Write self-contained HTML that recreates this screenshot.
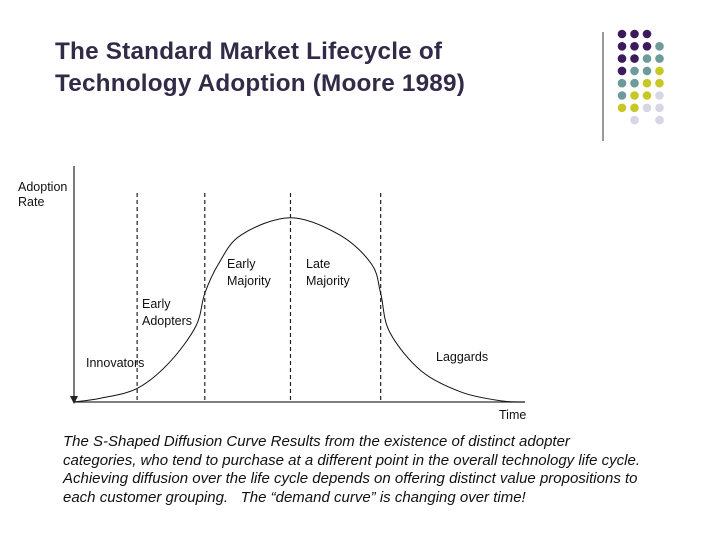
<!DOCTYPE html>
<html><head><meta charset="utf-8"><style>
body{margin:0;width:720px;height:540px;background:#fff;overflow:hidden;font-family:"Liberation Sans",sans-serif;position:relative}
.title{position:absolute;left:55px;top:36px;font-size:24.3px;color:#332a48;line-height:32px;font-weight:bold;letter-spacing:0.2px}
.cap{position:absolute;left:63px;top:433px;font-size:15px;font-style:italic;color:#111;line-height:18.5px;width:660px;white-space:nowrap}
svg{position:absolute;left:0;top:0}
</style></head><body>
<div class="title">The Standard Market Lifecycle of<br>Technology Adoption (Moore 1989)</div>
<svg width="720" height="540">
<line x1="603" y1="32" x2="603" y2="141" stroke="#777" stroke-width="1.5"/>
<g id="dots"></g>
<g id="plot"></g>
<text x="18" y="191" font-size="12.5" fill="#111">Adoption</text>
<text x="18" y="206" font-size="12.5" fill="#111">Rate</text>
<text x="499" y="419" font-size="12.5" fill="#111">Time</text>
<text x="86" y="367" font-size="12.5" fill="#111">Innovators</text>
<text x="142" y="308" font-size="12.5" fill="#111">Early</text>
<text x="142" y="325" font-size="12.5" fill="#111">Adopters</text>
<text x="227" y="268" font-size="12.5" fill="#111">Early</text>
<text x="227" y="285" font-size="12.5" fill="#111">Majority</text>
<text x="306" y="268" font-size="12.5" fill="#111">Late</text>
<text x="306" y="285" font-size="12.5" fill="#111">Majority</text>
<text x="436" y="361" font-size="12.5" fill="#111">Laggards</text>
</svg>
<div class="cap">The S-Shaped Diffusion Curve Results from the existence of distinct adopter<br>categories, who tend to purchase at a different point in the overall technology life cycle.<br>Achieving diffusion over the life cycle depends on offering distinct value propositions to<br>each customer grouping.&nbsp;&nbsp; The “demand curve” is changing over time!</div>
<script>
const NS="http://www.w3.org/2000/svg";
// curve data: time (0-100) and adoption rate (0-100)
const times=[0,6,14,21,27,29,32,37,48,59,66,68,70,77,86,95,100];
const rates=[0,2,7,20,39,56,71,86,95,86,71,56,36,16,5,0.5,0];
const boundaries=[14,29,48,68];
const dotColors=[["P","P","P",""],["P","P","P","T"],["P","P","T","T"],["P","T","T","Y"],["T","T","Y","Y"],["T","Y","Y","L"],["Y","Y","L","L"],["","L","","L"]];
const x0=74,x1=525,yb=402,yt=208;
const sx=t=>x0+t/100*(x1-x0);
const sy=r=>yb-r/100*(yb-yt);
const plot=document.getElementById('plot');
function mk(tag,attrs){const e=document.createElementNS(NS,tag);for(const k in attrs)e.setAttribute(k,attrs[k]);plot.appendChild(e);return e;}
let a=mk('line',{x1:x0,y1:166,x2:x0,y2:398,stroke:'#333','stroke-width':1.3});


let ah=mk('path',{d:`M${x0-4},396 L${x0+4},396 L${x0},404 Z`,fill:'#222'});


let xa=mk('line',{x1:x0,y1:yb,x2:x1,y2:yb,stroke:'#333','stroke-width':1.3});


boundaries.forEach((b,i)=>{
 const l=mk('line',{x1:sx(b),y1:193,x2:sx(b),y2:yb,stroke:'#222','stroke-width':1.2,'stroke-dasharray':'4,3'});
 
 
});
const P=times.map((t,i)=>[sx(t),sy(rates[i])]);
let d=`M${P[0][0]},${P[0][1]}`;
for(let i=0;i<P.length-1;i++){
 const p0=P[Math.max(0,i-1)],p1=P[i],p2=P[i+1],p3=P[Math.min(P.length-1,i+2)];
 d+=` C${p1[0]+(p2[0]-p0[0])/6},${p1[1]+(p2[1]-p0[1])/6} ${p2[0]-(p3[0]-p1[0])/6},${p2[1]-(p3[1]-p1[1])/6} ${p2[0]},${p2[1]}`;
}
const c=mk('path',{d:d,fill:'none',stroke:'#111','stroke-width':1});


const cols={P:'#3d1a5b',T:'#6f9a9a',Y:'#c8c824',L:'#d6d6e6'};
const dots=document.getElementById('dots');
dotColors.forEach((row,r)=>row.forEach((k,ci)=>{
 if(!k)return;
 const e=document.createElementNS(NS,'circle');
 e.setAttribute('cx',622+ci*12.5);e.setAttribute('cy',34+r*12.3);e.setAttribute('r',4.3);e.setAttribute('fill',cols[k]);
 
 
 dots.appendChild(e);
}));
</script>
</body></html>
